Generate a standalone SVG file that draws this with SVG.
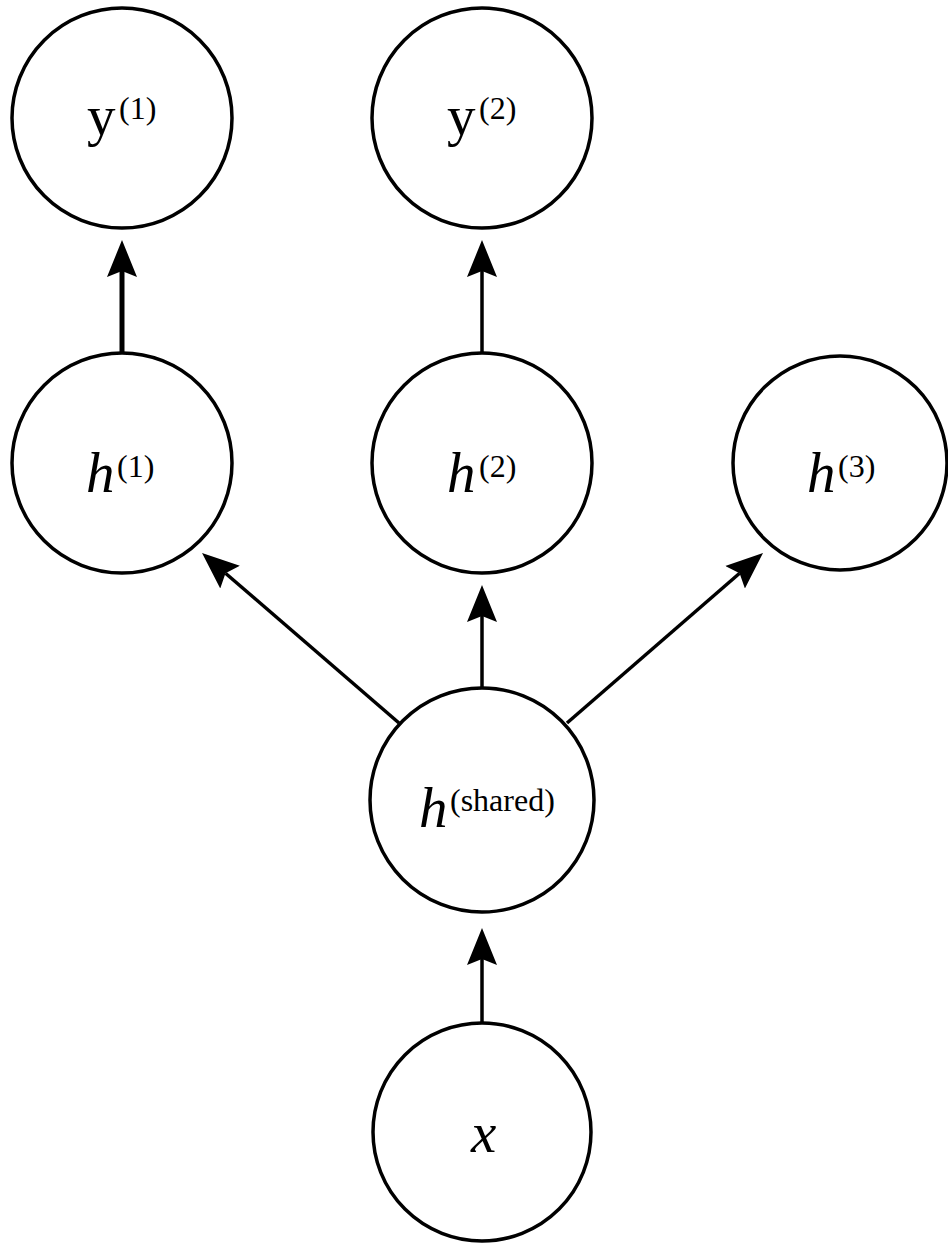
<svg xmlns="http://www.w3.org/2000/svg" width="948" height="1243" viewBox="0 0 948 1243">
<style>
.node{fill:#fff;stroke:#000;stroke-width:3.5}
.lbl{font-size:57px;fill:#000}
.it{font-style:italic}
.sup{font-size:32px;font-style:normal;fill:#000}
.edge{fill:none;stroke:#000;stroke-width:3.5}
</style>
<defs>
<marker id="ah" markerUnits="userSpaceOnUse" markerWidth="40" markerHeight="32" viewBox="0 -16 40 32" refX="6" refY="0" orient="auto">
<path d="M37,0 L0,-15 L6,0 L0,15 Z" fill="#000"/>
</marker>
</defs>
<rect width="948" height="1243" fill="#fff"/>
<g id="connectors">
<line class="edge" style="stroke-width:5" x1="122" y1="353" x2="122" y2="271" marker-end="url(#ah)"/>
<line class="edge" x1="482" y1="353" x2="482" y2="271" marker-end="url(#ah)"/>
<line class="edge" x1="482" y1="688" x2="482" y2="616" marker-end="url(#ah)"/>
<line class="edge" x1="482" y1="1023" x2="482" y2="959" marker-end="url(#ah)"/>
<line class="edge" x1="399" y1="723" x2="225.5" y2="573.2" marker-end="url(#ah)"/>
<line class="edge" x1="567" y1="723" x2="739.6" y2="573.3" marker-end="url(#ah)"/>
</g>
<g font-family="'Liberation Serif', 'Times New Roman', 'DejaVu Serif', serif">
<g id="y1"><circle class="node" cx="122" cy="118" r="110"/><text class="lbl" x="87" y="135">y</text><text class="sup" x="119" y="119">(1)</text></g>
<g id="y2"><circle class="node" cx="482" cy="118" r="110"/><text class="lbl" x="447" y="135">y</text><text class="sup" x="479" y="119">(2)</text></g>
<g id="h1"><circle class="node" cx="122" cy="463" r="110"/><text class="lbl it" x="86" y="492">h</text><text class="sup" x="117" y="477">(1)</text></g>
<g id="h2"><circle class="node" cx="482" cy="463" r="110"/><text class="lbl it" x="447" y="492">h</text><text class="sup" x="479" y="477">(2)</text></g>
<g id="h3"><circle class="node" cx="840" cy="463" r="107"/><text class="lbl it" x="807" y="492">h</text><text class="sup" x="838" y="477">(3)</text></g>
<g id="hshared"><circle class="node" cx="482" cy="800" r="112"/><text class="lbl it" x="419" y="827">h</text><text class="sup" x="450" y="811">(shared)</text></g>
<g id="x"><circle class="node" cx="482" cy="1132" r="109"/><text class="lbl it" x="471" y="1152">x</text></g>
</g>
</svg>
